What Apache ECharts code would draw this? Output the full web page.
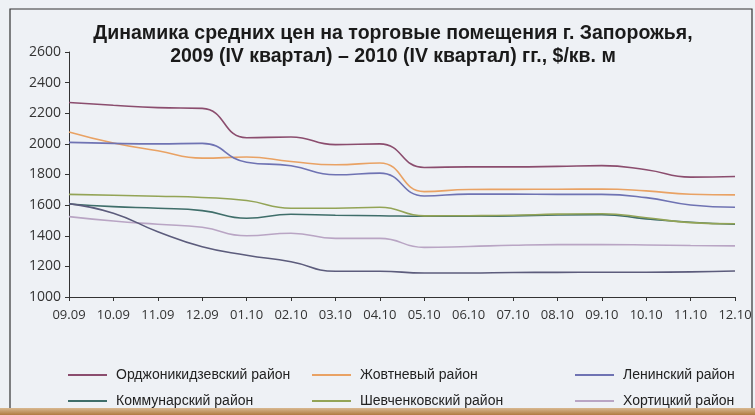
<!DOCTYPE html>
<html><head><meta charset="utf-8">
<script src="https://cdn.jsdelivr.net/npm/echarts@6/dist/echarts.min.js"></script>
<style>html,body{margin:0;padding:0;background:#eef1f5;}#c{width:755px;height:415px;}</style>
</head><body><div id="c"></div>
<script>
const categories = ['09.09','10.09','11.09','12.09','01.10','02.10','03.10','04.10','05.10','06.10','07.10','08.10','09.10','10.10','11.10','12.10'];
const ordzhonikidzevsky = [2270,2252,2237,2232,2040,2045,1995,2000,1846,1850,1850,1853,1858,1831,1783,1787];
const zhovtnevy        = [2078,2006,1955,1907,1914,1885,1864,1875,1688,1702,1703,1704,1705,1693,1671,1667];
const leninsky         = [2010,2003,2000,2003,1880,1857,1798,1809,1660,1672,1672,1670,1670,1649,1601,1586];
const kommunarsky      = [1607,1590,1580,1564,1514,1540,1534,1531,1527,1528,1530,1536,1538,1510,1488,1475];
const shevchenkovsky   = [1670,1664,1658,1650,1630,1580,1580,1586,1530,1531,1534,1541,1544,1518,1486,1478];
const khortitsky       = [1525,1496,1475,1455,1400,1416,1383,1383,1324,1330,1338,1342,1342,1340,1336,1334];
const other            = [1610,1547,1426,1328,1273,1230,1168,1168,1157,1157,1160,1161,1162,1162,1164,1170];
const yTicks = {min:1000, max:2600, interval:200};

const names = ['Орджоникидзевский район','Жовтневый район','Ленинский район','Коммунарский район','Шевченковский район','Хортицкий район','Прочие'];
const colors = ['#8b4d6e','#e9a264','#6f73b3','#3f6e6a','#93a456','#b9a5c4','#5c5c7c'];
const datas = [ordzhonikidzevsky,zhovtnevy,leninsky,kommunarsky,shevchenkovsky,khortitsky,other];

const font = '"Liberation Sans Narrow", "Liberation Sans", sans-serif';
const legendBase = {orient:'vertical', top:363, itemWidth:39, itemHeight:2, itemGap:12, icon:'rect',
  textStyle:{fontFamily:font, fontSize:14, color:'#222', padding:[0,0,0,4]}};

const chart = echarts.init(document.getElementById('c'));
chart.setOption({
  backgroundColor:'#eef1f5',
  animation:false,
  title:{text:'Динамика средних цен на торговые помещения г. Запорожья,\n2009 (IV квартал) – 2010 (IV квартал) гг., $/кв. м',
    left:388, textAlign:'center', top:17,
    textStyle:{fontFamily:font, fontWeight:'bold', fontSize:19.5, lineHeight:23, color:'#1a1a1a'}},
  graphic:[
    {type:'rect', shape:{x:10,y:9,width:742,height:420}, style:{fill:'none', stroke:'#333', lineWidth:1.2}, z:-1},
    {type:'rect', shape:{x:0,y:408,width:755,height:7}, style:{fill:{type:'linear',x:0,y:0,x2:0,y2:1,colorStops:[{offset:0,color:'#d8b890'},{offset:1,color:'#b07a40'}]}}, z:10}
  ],
  legend:[
    Object.assign({}, legendBase, {left:63, data:[names[0],names[3]]}),
    Object.assign({}, legendBase, {left:307, data:[names[1],names[4]]}),
    Object.assign({}, legendBase, {left:570, data:[names[2],names[5]]})
  ],
  grid:{left:69, right:20, top:52, bottom:118},
  xAxis:{type:'category', data:categories, boundaryGap:false,
    axisLine:{lineStyle:{color:'#333', width:1}},
    axisTick:{show:true, length:4, lineStyle:{color:'#333'}},
    axisLabel:{interval:0, color:'#333', fontSize:13, fontFamily:'"Open Sans", sans-serif', margin:12}},
  yAxis:{type:'value', min:yTicks.min, max:yTicks.max, interval:yTicks.interval,
    splitLine:{show:false},
    axisLine:{show:true, lineStyle:{color:'#333', width:1}},
    axisTick:{show:true, length:4, lineStyle:{color:'#333'}},
    axisLabel:{formatter:v=>String(v), color:'#333', fontSize:14, fontFamily:'"Open Sans", sans-serif', margin:8}},
  series: datas.map((d,i)=>({name:names[i], type:'line', data:d, smooth:0.5, showSymbol:false,
    color:colors[i], lineStyle:{width:1.6, color:colors[i]}}))
});
</script></body></html>
